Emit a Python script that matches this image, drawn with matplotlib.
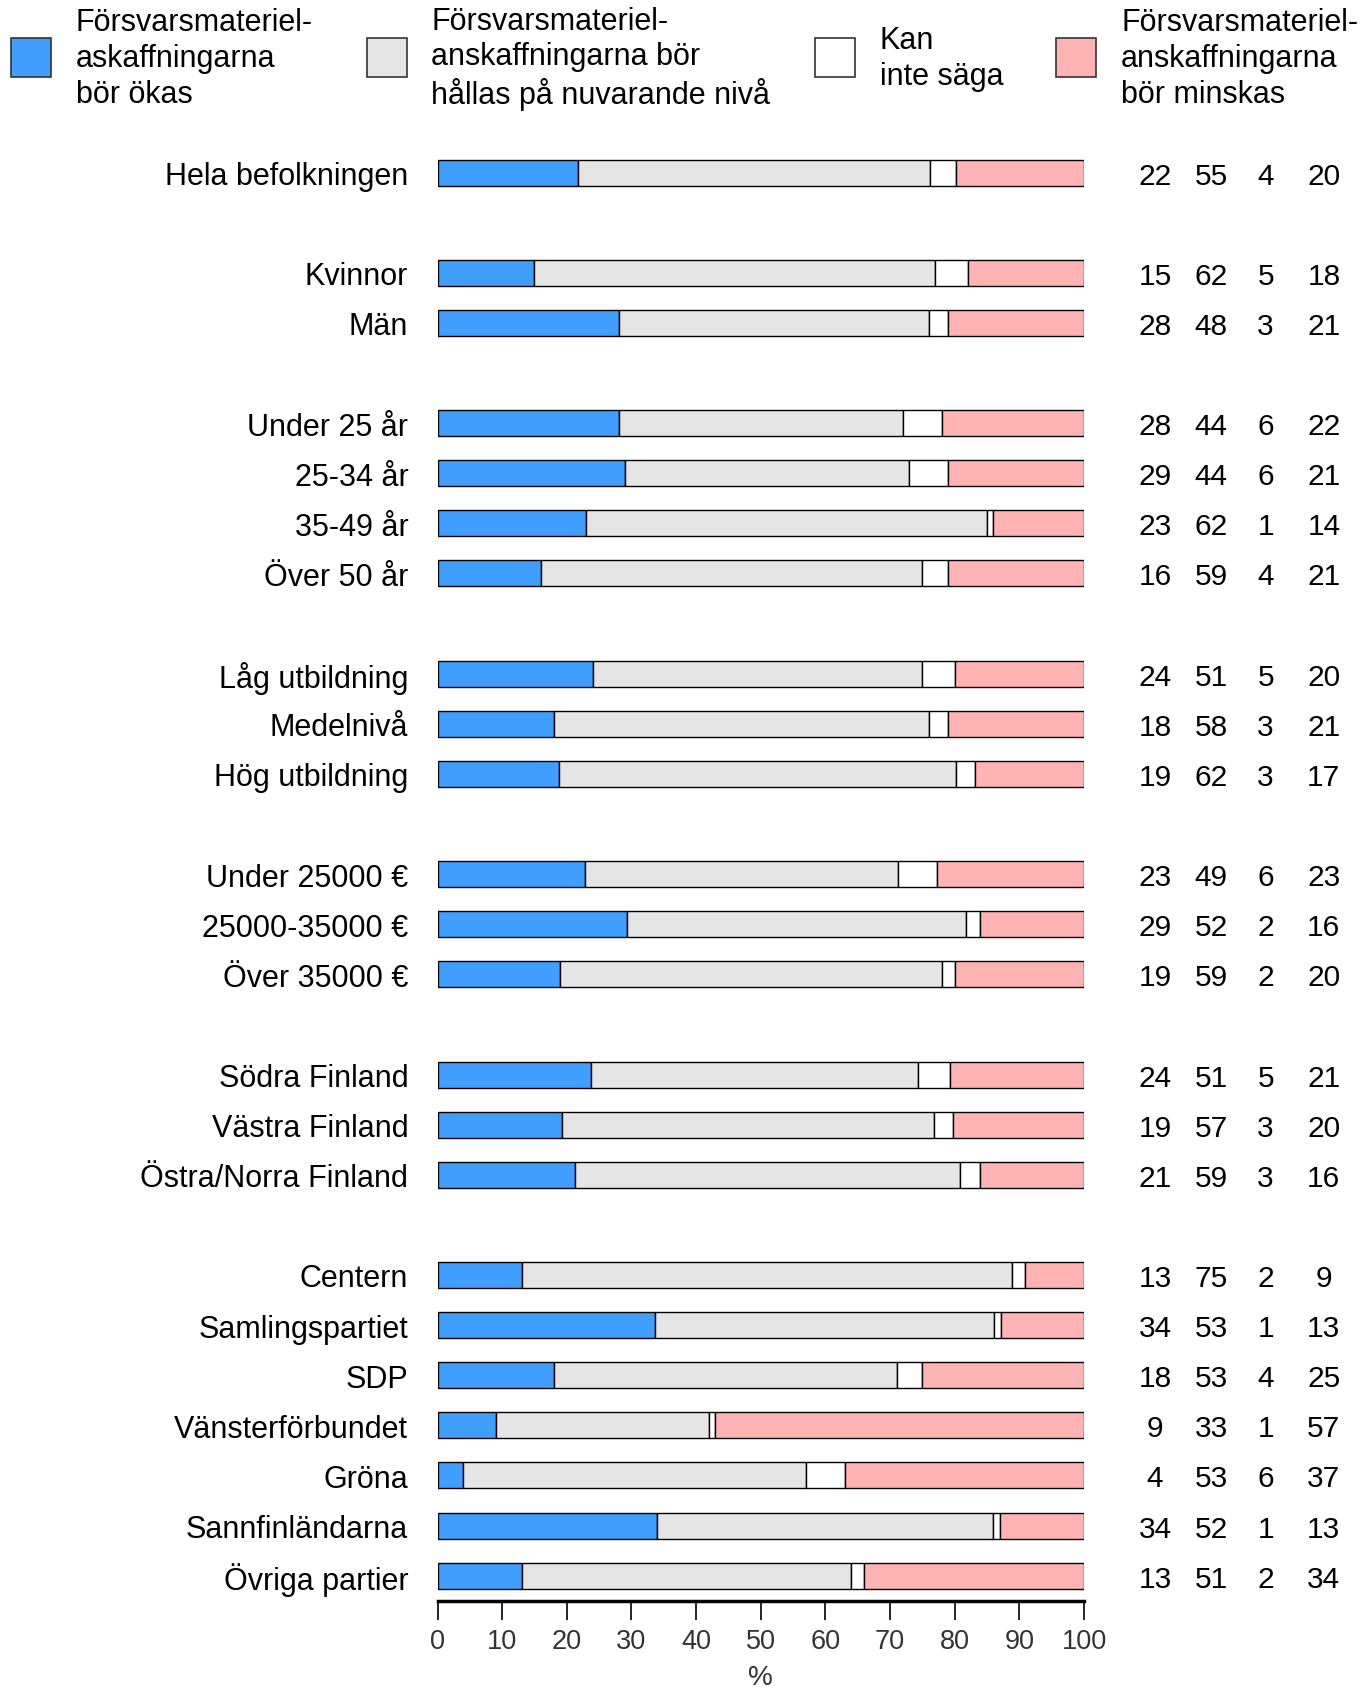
import matplotlib.pyplot as plt
from matplotlib.patches import Rectangle
import numpy as np

plt.rcParams['font.family'] = ['Liberation Sans', 'DejaVu Sans']

# Data
groups = [
    ['Hela befolkningen'],
    ['Kvinnor', 'Män'],
    ['Under 25 år', '25-34 år', '35-49 år', 'Över 50 år'],
    ['Låg utbildning', 'Medelnivå', 'Hög utbildning'],
    ['Under 25000 €', '25000-35000 €', 'Över 35000 €'],
    ['Södra Finland', 'Västra Finland', 'Östra/Norra Finland'],
    ['Centern', 'Samlingspartiet', 'SDP', 'Vänsterförbundet', 'Gröna',
     'Sannfinländarna', 'Övriga partier'],
]
okas = [22, 15, 28, 28, 29, 23, 16, 24, 18, 19, 23, 29, 19, 24, 19, 21,
        13, 34, 18, 9, 4, 34, 13]
halla = [55, 62, 48, 44, 44, 62, 59, 51, 58, 62, 49, 52, 59, 51, 57, 59,
         75, 53, 53, 33, 53, 52, 51]
kan_inte = [4, 5, 3, 6, 6, 1, 4, 5, 3, 3, 6, 2, 2, 5, 3, 3,
            2, 1, 4, 1, 6, 1, 2]
minskas = [20, 18, 21, 22, 21, 14, 21, 20, 21, 17, 23, 16, 20, 21, 20, 16,
           9, 13, 25, 57, 37, 13, 34]

legend_labels = ['Försvarsmateriel-\naskaffningarna\nbör ökas',
                 'Försvarsmateriel-\nanskaffningarna bör\nhållas på nuvarande nivå',
                 'Kan\ninte säga',
                 'Försvarsmateriel-\nanskaffningarna\nbör minskas']
colors = ['#409EFF', '#E5E5E5', '#FFFFFF', '#FFB3B3']

# Rader med tom rad mellan grupper
labels = []
ypos = []
row = 0
for g in groups:
    for name in g:
        labels.append(name)
        ypos.append(row)
        row += 1
    row += 1
ypos = np.array(ypos)

vals = np.array([okas, halla, kan_inte, minskas], dtype=float)
pct = vals / vals.sum(axis=0) * 100

W, H = 1361, 1690
fig = plt.figure(figsize=(W / 100, H / 100), dpi=100)
ax = fig.add_axes([437.5 / W, 1 - 1601.7 / H, (1084 - 437.5) / W, (1601.7 - 148.5) / H])

left = np.zeros(len(labels))
for i in range(4):
    ax.barh(ypos, pct[i], left=left, height=0.52, color=colors[i],
            edgecolor='black', linewidth=1)
    left += pct[i]

ax.set_xlim(0, 100)
ax.set_ylim(28.5, -0.5)
ax.set_yticks(ypos)
ax.set_yticklabels(labels, fontsize=22)
for t in ax.get_yticklabels():
    t.set_va('center_baseline')
ax.tick_params(axis='y', length=0, pad=21)
ax.set_xticks(range(0, 101, 10))
ax.tick_params(axis='x', length=14, width=1.2, labelsize=19.5, labelcolor='#333333', pad=6)
for s in ['top', 'right', 'left']:
    ax.spines[s].set_visible(False)
ax.spines['bottom'].set_linewidth(2.5)
ax.set_xlabel('%', fontsize=20, color='#333333', labelpad=7)

# Siffror till höger
num_x = [111.0, 119.7, 128.1, 137.1]
for j, y in enumerate(ypos):
    for i in range(4):
        ax.text(num_x[i], y, str(int(vals[i, j])), ha='center', va='center_baseline',
                fontsize=21.5, clip_on=False)

# Legend
patch_x = [11, 367, 815, 1056]
text_x = [76, 431, 880, 1121]
for i in range(4):
    fig.patches.append(Rectangle((patch_x[i] / W, 1 - 78 / H), 40 / W, 39 / H,
                                 transform=fig.transFigure, facecolor=colors[i],
                                 edgecolor='#333333', linewidth=1.2))
    fig.text(text_x[i] / W, 1 - 59 / H, legend_labels[i], ha='left', va='center',
             fontsize=22, linespacing=1.24)

fig.savefig('out.png', dpi=100)
